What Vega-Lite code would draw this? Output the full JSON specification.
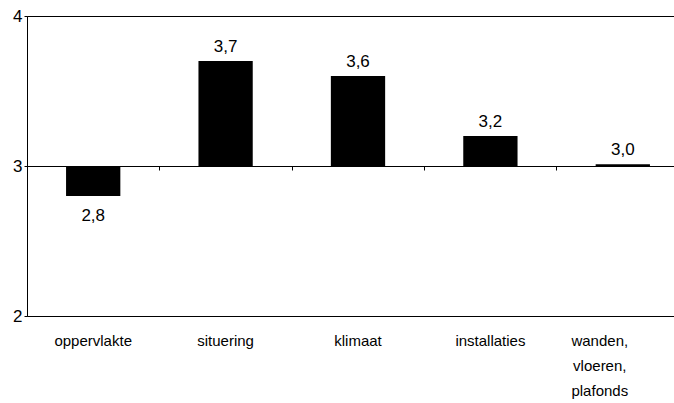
{
  "$schema": "https://vega.github.io/schema/vega-lite/v6.json",
  "autosize": "none",
  "padding": {"left": 27, "top": 16, "right": -15, "bottom": 87},
  "width": 662,
  "height": 300,
  "background": "white",
  "config": {
    "view": {"stroke": "black", "strokeWidth": 1},
    "font": "Liberation Sans",
    "axis": {"labelFont": "Liberation Sans", "labelColor": "black", "domainColor": "black", "tickColor": "black", "grid": false}
  },
  "data": {
    "values": [
      {"cat": "oppervlakte", "value": 2.8, "label": "2,8"},
      {"cat": "situering", "value": 3.7, "label": "3,7"},
      {"cat": "klimaat", "value": 3.6, "label": "3,6"},
      {"cat": "installaties", "value": 3.2, "label": "3,2"},
      {"cat": "wanden, vloeren, plafonds", "value": 3.012, "label": "3,0"}
    ]
  },
  "resolve": {"axis": {"x": "independent"}},
  "encoding": {
    "y": {
      "field": "value", "type": "quantitative",
      "scale": {"domain": [2, 4], "nice": false, "zero": false},
      "axis": {"title": null, "tickCount": 2, "tickSize": 3, "labelPadding": 2, "labelFontSize": 17, "labelOverlap": false, "labelFlush": false, "labelBound": false, "format": "d", "zindex": 1}
    }
  },
  "layer": [
    {
      "mark": {"type": "bar", "color": "black"},
      "encoding": {
        "x": {
          "field": "cat", "type": "nominal", "sort": null,
          "scale": {"paddingInner": 0.59, "paddingOuter": 0.295},
          "axis": {
            "orient": "bottom", "title": null, "domain": false, "ticks": false,
            "labelAngle": 0, "labelFontSize": 15, "labelPadding": 17,
            "labelLineHeight": 25, "labelBaseline": "top",
            "labelExpr": "datum.value == 'wanden, vloeren, plafonds' ? ['wanden,', 'vloeren,', 'plafonds'] : datum.value",
            "labelOffset": {"condition": {"test": "datum.value == 'wanden, vloeren, plafonds'", "value": -23}, "value": 0}
          }
        },
        "y2": {"datum": 3}
      }
    },
    {
      "transform": [{"filter": "datum.value >= 3"}],
      "mark": {"type": "text", "baseline": "bottom", "dy": -5, "fontSize": 17, "color": "black"},
      "encoding": {
        "x": {
          "field": "cat", "type": "nominal", "sort": null,
          "axis": {
            "orient": "bottom", "offset": -150, "title": null, "labels": false,
            "domain": true, "ticks": true, "tickBand": "center", "tickOffset": 66, "tickSize": 4
          }
        },
        "text": {"field": "label"}
      }
    },
    {
      "transform": [{"filter": "datum.value < 3"}],
      "mark": {"type": "text", "baseline": "top", "dy": 12, "fontSize": 17, "color": "black"},
      "encoding": {
        "x": {"field": "cat", "type": "nominal", "sort": null, "axis": null},
        "text": {"field": "label"}
      }
    }
  ]
}
